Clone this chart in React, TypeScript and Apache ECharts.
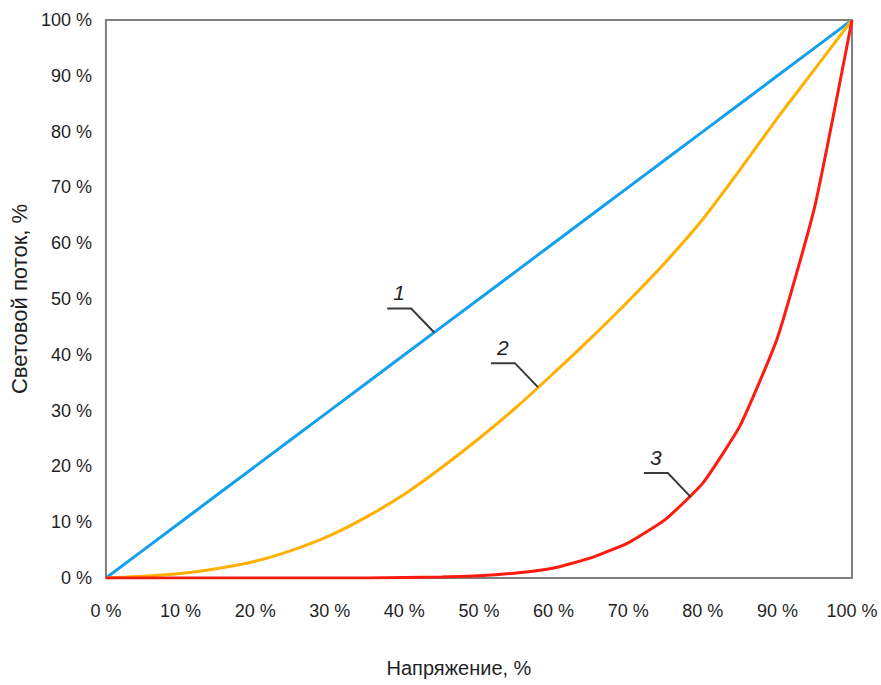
import React, { useEffect, useRef } from "react";
import * as echarts from "echarts";

const voltage = [0, 5, 10, 15, 20, 25, 30, 35, 40, 45, 50, 55, 60, 65, 70, 75, 80, 85, 90, 95, 100];
const curve1 = [0, 5, 10, 15, 20, 25, 30, 35, 40, 45, 50, 55, 60, 65, 70, 75, 80, 85, 90, 95, 100];
const curve2 = [0, 0.3, 0.8, 1.7, 3.0, 5.0, 7.6, 11, 15, 19.8, 25, 30.6, 36.7, 43, 49.6, 56.6, 64.3, 73.2, 82.4, 91.2, 100];
const curve3 = [0, 0, 0, 0, 0, 0, 0, 0, 0.1, 0.2, 0.4, 0.9, 1.8, 3.6, 6.3, 10.5, 17, 27.3, 43, 66.5, 100];
const tickLabels = ["0 %", "10 %", "20 %", "30 %", "40 %", "50 %", "60 %", "70 %", "80 %", "90 %", "100 %"];
const seriesNames = ["1", "2", "3"];
const seriesColors = ["#14a0ea", "#ffb000", "#ff1a0f"];
const annotationAnchors = [
  [44, 44],
  [57.9, 34.2],
  [78.4, 14.5],
];

const FONT = "'Liberation Sans', Arial, sans-serif";
const TEXT = "#1f1f1f";

export default function App() {
  const ref = useRef<HTMLDivElement>(null);
  useEffect(() => {
    if (!ref.current) return;
    const chart = echarts.init(ref.current, undefined, { renderer: "svg" });
    const fmt = (v: number) => tickLabels[Math.round(v / 10)] ?? `${v} %`;
    const mk = (vals: number[]) => voltage.map((x, i) => [x, vals[i]]);
    const all = [curve1, curve2, curve3];
    chart.setOption({
      animation: false,
      backgroundColor: "#ffffff",
      textStyle: { fontFamily: FONT },
      grid: {
        left: 97,
        top: 20,
        right: 29,
        bottom: 107,
        show: true,
        borderColor: "#7f7f7f",
        borderWidth: 2,
        backgroundColor: "transparent",
      },
      xAxis: {
        type: "value",
        min: 0,
        max: 100,
        interval: 10,
        name: "Напряжение, %",
        nameLocation: "middle",
        nameGap: 80,
        nameTextStyle: { fontSize: 20, color: TEXT, fontFamily: FONT, padding: [0, 40, 0, 0] },
        axisLine: { show: false },
        axisTick: { show: false },
        splitLine: { show: false },
        axisLabel: { formatter: fmt, fontSize: 18, color: TEXT, margin: 24, fontFamily: FONT },
      },
      yAxis: {
        type: "value",
        min: 0,
        max: 100,
        interval: 10,
        name: "Световой поток, %",
        nameLocation: "middle",
        nameGap: 70,
        nameTextStyle: { fontSize: 22, color: TEXT, fontFamily: FONT },
        axisLine: { show: false },
        axisTick: { show: false },
        splitLine: { show: false },
        axisLabel: { formatter: fmt, fontSize: 18, color: TEXT, margin: 14, fontFamily: FONT },
      },
      series: all.map((vals, i) => ({
        name: seriesNames[i],
        type: "line",
        data: mk(vals),
        showSymbol: false,
        smooth: i === 1 ? 0.3 : i === 2 ? 0.15 : false,
        lineStyle: { color: seriesColors[i], width: 3 },
        z: 3 + i,
      })),
    });

    const graphics: any[] = [];
    annotationAnchors.forEach((a, i) => {
      const p = chart.convertToPixel({ gridIndex: 0 }, a) as number[];
      const [x, y] = p;
      graphics.push({
        type: "polyline",
        shape: { points: [[x - 47, y - 24], [x - 23, y - 24], [x, y]] },
        style: { stroke: "#3a3a3a", lineWidth: 2, fill: "none" },
        z: 10,
      });
      graphics.push({
        type: "text",
        x: x - 35,
        y: y - 40,
        style: {
          text: seriesNames[i],
          fontSize: 21,
          fontStyle: "italic",
          fontFamily: FONT,
          fill: TEXT,
          align: "center",
          verticalAlign: "middle",
        },
        z: 10,
      });
    });
    chart.setOption({ graphic: graphics });

    return () => chart.dispose();
  }, []);
  return <div ref={ref} style={{ width: 881, height: 685, position: "absolute", left: 0, top: 0 }} />;
}
